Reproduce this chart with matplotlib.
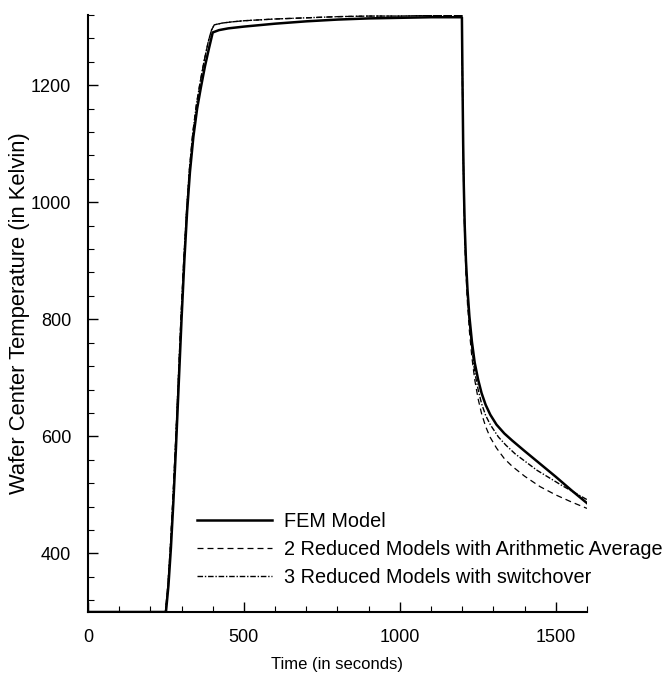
import matplotlib
matplotlib.use("Agg")
import matplotlib.pyplot as plt
from matplotlib.ticker import MultipleLocator

plt.rcParams['font.family'] = ['Liberation Sans', 'DejaVu Sans']

# FEM model response
t_fem = [0, 250, 258, 266, 274, 282, 291, 300, 309, 318, 327, 338, 350, 362,
         375, 388, 400, 420, 450, 500, 600, 700, 800, 900, 1000, 1100, 1199,
         1201, 1203, 1205, 1208, 1212, 1217, 1223, 1231, 1240, 1251, 1262,
         1275, 1290, 1310, 1335, 1360, 1400, 1450, 1500, 1550, 1600]
T_fem = [300, 300, 345, 410, 490, 579, 690, 800, 900, 985, 1052, 1112, 1160,
         1196, 1232, 1263, 1290, 1294, 1297, 1300, 1305, 1309, 1312, 1314,
         1315, 1316, 1316, 1200, 1100, 1030, 960, 900, 850, 805, 762, 726,
         697, 674, 654, 637, 620, 605, 593, 575, 553, 531, 508, 486]

# Two reduced models, arithmetic average
t_avg = [0, 248, 256, 264, 272, 280, 289, 298, 307, 316, 325, 336, 348, 360,
         373, 386, 396, 405, 430, 460, 500, 600, 700, 800, 900, 1000, 1100,
         1199, 1201, 1203, 1205, 1208, 1212, 1217, 1223, 1231, 1240, 1251,
         1262, 1275, 1289, 1310, 1335, 1360, 1400, 1450, 1500, 1550, 1600]
T_avg = [300, 300, 345, 410, 490, 579, 690, 800, 900, 985, 1055, 1118, 1168,
         1206, 1243, 1275, 1294, 1303, 1306, 1308, 1310, 1313, 1315, 1317,
         1318, 1318, 1319, 1319, 1190, 1085, 1012, 940, 878, 825, 780, 735,
         697, 664, 639, 617, 599, 580, 562, 549, 532, 514, 500, 488, 477]

# Three reduced models, switchover
t_sw = [0, 248, 256, 264, 272, 280, 289, 298, 307, 316, 325, 336, 348, 360,
        373, 386, 396, 405, 430, 460, 500, 600, 700, 800, 900, 1000, 1100,
        1199, 1201, 1203, 1205, 1208, 1212, 1217, 1223, 1231, 1240, 1251,
        1262, 1275, 1290, 1316, 1340, 1370, 1400, 1440, 1480, 1520, 1560, 1600]
T_sw = [300, 300, 345, 410, 490, 579, 690, 800, 900, 985, 1055, 1118, 1168,
        1206, 1243, 1275, 1294, 1303, 1306, 1308, 1310, 1313, 1315, 1317,
        1318, 1318, 1319, 1319, 1195, 1092, 1020, 950, 890, 838, 792, 750,
        710, 680, 656, 636, 620, 599, 585, 570, 558, 542, 529, 516, 504, 492]

labels = ["FEM Model",
          "2 Reduced Models with Arithmetic Average",
          "3 Reduced Models with switchover"]

fig = plt.figure(figsize=(6.64, 6.77), dpi=100)
ax = fig.add_axes([0.1325, 0.096, 0.7515, 0.882])

ax.plot(t_fem, T_fem, color='black', lw=1.8, ls='-', label=labels[0])
ax.plot(t_avg, T_avg, color='black', lw=0.9, ls=(0, (4.8, 3.2)), label=labels[1])
ax.plot(t_sw, T_sw, color='black', lw=1.0, ls=(0, (4, 1.3, 1, 1.3)), label=labels[2])

ax.set_xlim(0, 1600)
ax.set_ylim(300, 1320)
ax.xaxis.set_major_locator(MultipleLocator(500))
ax.xaxis.set_minor_locator(MultipleLocator(100))
ax.yaxis.set_minor_locator(MultipleLocator(40))
ax.set_yticks([400, 600, 800, 1000, 1200])

for side in ('top', 'right'):
    ax.spines[side].set_visible(False)
for side in ('left', 'bottom'):
    ax.spines[side].set_linewidth(1.5)

ax.tick_params(which='major', direction='in', length=7, width=1.0,
               labelsize=13, pad=12)
ax.tick_params(which='minor', direction='in', length=4, width=0.8)

ax.set_xlabel("Time (in seconds)", fontsize=12, labelpad=8)
ax.set_ylabel("Wafer Center Temperature (in Kelvin)", fontsize=15.8, labelpad=1)

ax.legend(loc='upper left', bbox_to_anchor=(0.2184, 0.168), frameon=False,
          borderaxespad=0, borderpad=0,
          fontsize=14.3, handlelength=3.8, handletextpad=0.6, labelspacing=0.45)

fig.savefig("out.png", dpi=100)
